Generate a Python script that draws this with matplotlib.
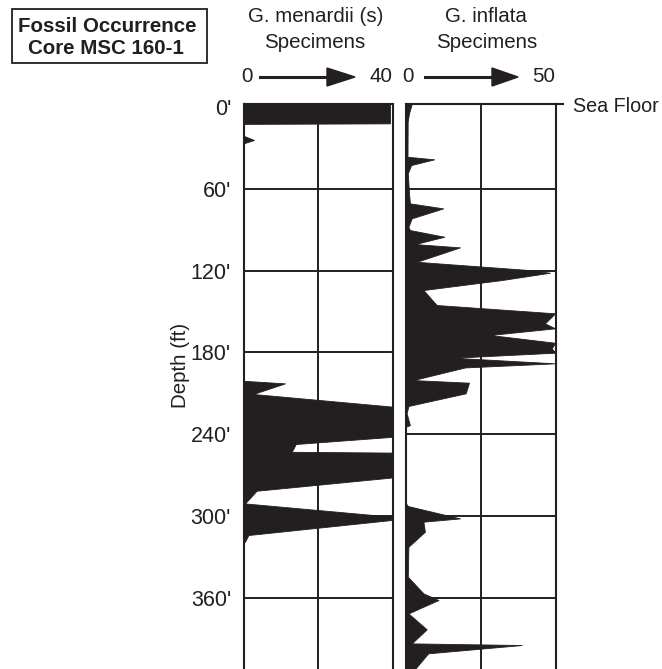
import matplotlib
matplotlib.use("Agg")
import matplotlib.pyplot as plt
from matplotlib.patches import Rectangle

plt.rcParams['font.family'] = ['Liberation Sans', 'DejaVu Sans']

# ---- data (depth in ft, specimen counts) ----
menardii_depth = [-2.3, 11.9, 12.3, 21.0, 24.1, 26.6, 200.8, 202.7, 210.5, 219.8,
                  241.9, 247.2, 252.9, 253.5, 271.7, 281.5, 290.8, 300.6, 302.0,
                  303.0, 314.0, 318.9, 320.0, 412.3]
menardii_count = [39.2, 39.2, 0.0, 0.0, 2.8, 0.0, 0.0, 11.1, 2.6, 40.0,
                  40.0, 14.0, 12.9, 40.0, 40.0, 3.5, 0.4, 40.0, 39.5,
                  39.5, 1.3, 0.4, 0.0, 0.0]

inflata_depth = [-2.3, 4.6, 10.7, 36.4, 38.3, 42.5, 48.6, 63.3, 70.6, 74.3,
                 81.6, 87.8, 90.2, 95.1, 100.5, 102.9, 113.5, 119.5, 121.5,
                 126.9, 134.2, 145.2, 151.3, 158.7, 162.3, 167.2, 172.9, 177.0,
                 180.2, 183.9, 188.0, 191.0, 200.3, 202.2, 210.0, 219.3, 224.7,
                 233.3, 234.5, 290.8, 292.7, 301.8, 304.2, 311.6, 322.6, 344.6,
                 356.8, 361.7, 371.5, 383.2, 393.5, 394.7, 400.8, 412.3]
inflata_count = [1.9, 1.0, 0.55, 0.5, 9.4, 1.7, 0.6, 1.0, 1.3, 12.4,
                 1.9, 0.8, 1.3, 12.8, 3.0, 18.0, 3.6, 40.8, 48.0,
                 31.9, 5.8, 10.2, 49.7, 46.3, 49.7, 28.0, 49.7, 48.6,
                 49.7, 15.8, 49.7, 19.7, 2.4, 21.0, 19.9, 0.8, 0.2,
                 1.3, 0.0, 0.0, 0.6, 18.0, 5.8, 6.3, 0.8, 0.6,
                 5.8, 10.8, 0.8, 6.9, 1.9, 38.6, 7.4, 3.0]

depth_ticks = [0, 60, 120, 180, 240, 300, 360]
depth_labels = ["0'", "60'", "120'", "180'", "240'", "300'", "360'"]
menardii_max = 40
inflata_max = 50

INK = '#231f20'
FS = 14.8
W, H = 662, 669
fig = plt.figure(figsize=(W / 100, H / 100), dpi=100)


def fx(px):
    return px / W


def fy(py):
    return 1 - py / H


ylim = (412.3, -2.3)
top_px = 104
axL = fig.add_axes([fx(243.5), 0, fx(393) - fx(243.5), fy(top_px)])
axR = fig.add_axes([fx(406), 0, fx(556) - fx(406), fy(top_px)])

for ax, d, v, xmax in [(axL, menardii_depth, menardii_count, menardii_max),
                       (axR, inflata_depth, inflata_count, inflata_max)]:
    ax.fill_betweenx(d, 0, v, color=INK, lw=0.6, ec=INK, zorder=3)
    ax.set_xlim(0, xmax)
    ax.set_ylim(*ylim)
    for t in depth_ticks[1:]:
        ax.axhline(t, color=INK, lw=1.4, zorder=2)
    ax.axvline(xmax / 2, color=INK, lw=1.4, zorder=2)
    ax.set_xticks([])
    for s in ['left', 'right', 'top']:
        ax.spines[s].set_color(INK)
        ax.spines[s].set_linewidth(1.5)
    ax.spines['bottom'].set_visible(False)
    ax.tick_params(axis='y', length=0)

axL.set_yticks(depth_ticks)
axL.set_yticklabels(depth_labels, fontsize=15.5, color=INK)
axL.tick_params(axis='y', pad=9)
axR.set_yticks([])
axL.set_ylabel("Depth (ft)", fontsize=FS, color=INK, labelpad=8)
axL.yaxis.set_label_coords(-0.36, (H - 365) / (H - top_px))

# sea floor line
fig.add_artist(plt.Line2D([fx(556), fx(563)], [fy(top_px), fy(top_px)],
                          color=INK, lw=1.5))
fig.text(fx(573), fy(107), "Sea Floor", fontsize=14.2, color=INK,
         ha='left', va='center')

# title box
fig.add_artist(Rectangle((fx(11.7), fy(63.3)), fx(206.7) - fx(11.7),
                         fy(9.3) - fy(63.3), transform=fig.transFigure,
                         fill=False, ec=INK, lw=1.3))
fig.text(fx(107), fy(26), "Fossil Occurrence", fontsize=FS,
         fontweight='bold', ha='center', va='center', color=INK)
fig.text(fx(106), fy(49), "Core MSC 160-1", fontsize=FS,
         fontweight='bold', ha='center', va='center', color=INK)

# column headers
fig.text(fx(315.5), fy(17), "G. menardii (s)", fontsize=FS, ha='center',
         va='center', color=INK)
fig.text(fx(314.5), fy(42), "Specimens", fontsize=FS, ha='center',
         va='center', color=INK)
fig.text(fx(486), fy(17), "G. inflata", fontsize=FS, ha='center',
         va='center', color=INK)
fig.text(fx(487), fy(42), "Specimens", fontsize=FS, ha='center',
         va='center', color=INK)


# scale arrows
def scale_arrow(x0txt, x1txt, lbl0, lbl1, xs, xe, xhead):
    y = 77
    fig.text(fx(x0txt), fy(y), lbl0, fontsize=FS, ha='center', va='center',
             color=INK)
    fig.text(fx(x1txt), fy(y), lbl1, fontsize=FS, ha='center', va='center',
             color=INK)
    fig.add_artist(plt.Line2D([fx(xs), fx(xhead)], [fy(y), fy(y)],
                              color=INK, lw=2.2))
    fig.add_artist(plt.Polygon([[fx(xhead), fy(y - 9)], [fx(xe), fy(y)],
                                [fx(xhead), fy(y + 9)]], closed=True,
                               transform=fig.transFigure, color=INK))


scale_arrow(247, 380.5, "0", "40", 260, 355, 327)
scale_arrow(408, 544, "0", "50", 425, 518, 492)

fig.savefig("out.png", dpi=100, facecolor='white')
